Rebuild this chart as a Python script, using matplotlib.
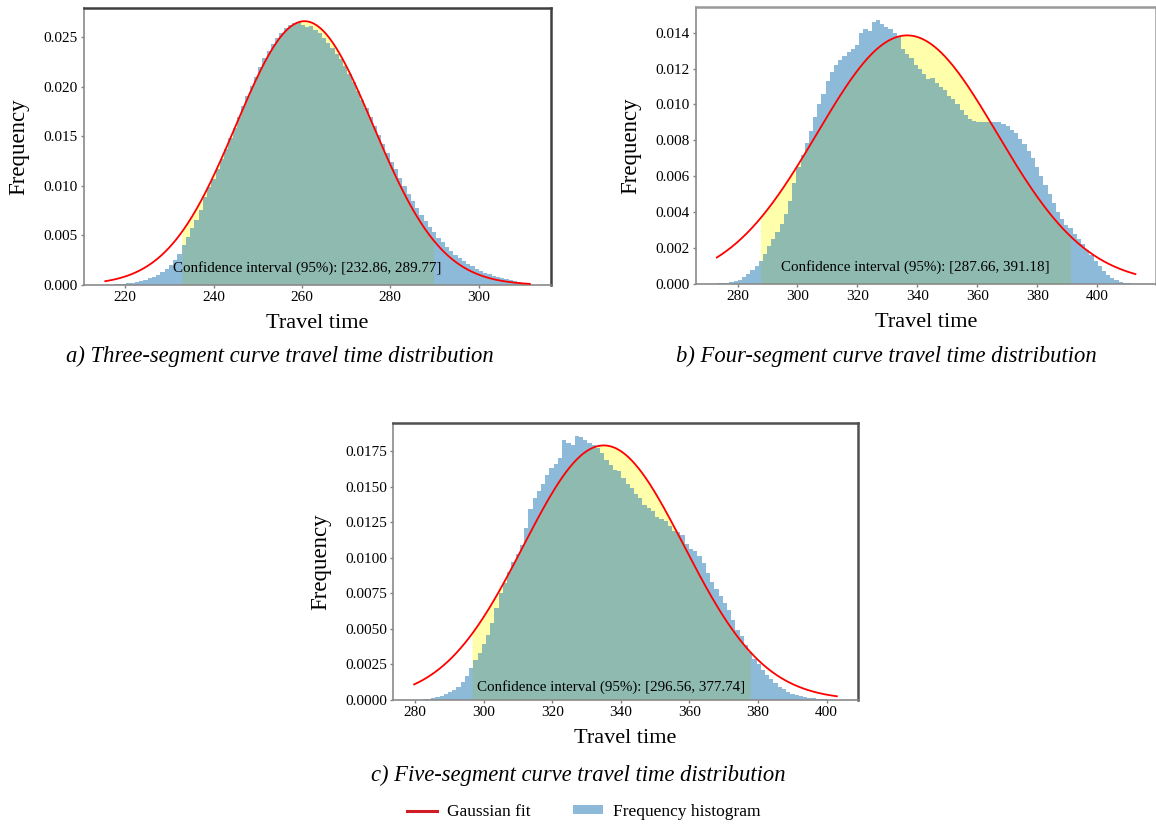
import matplotlib
matplotlib.use('Agg')
import matplotlib.pyplot as plt
from matplotlib.lines import Line2D
from matplotlib.patches import Patch
import numpy as np

plt.rcParams['font.family'] = ['Liberation Serif', 'DejaVu Serif']

# histogram range (min, max travel time) and bar heights
range_a = [215.5, 311.6]
freq_a = [0.00003, 0.00005, 0.00008, 0.00010, 0.00015, 0.00020, 0.00025, 0.00032, 0.00042, 0.00055,
          0.00068, 0.00085, 0.00105, 0.00130, 0.00165, 0.00200, 0.00250, 0.00310, 0.00400, 0.00480,
          0.00570, 0.00660, 0.00760, 0.00890, 0.00985, 0.01073, 0.01174, 0.01268, 0.01376, 0.01485,
          0.01585, 0.01696, 0.01805, 0.01903, 0.02008, 0.02099, 0.02195, 0.02284, 0.02359, 0.02433,
          0.02491, 0.02546, 0.02590, 0.02620, 0.02641, 0.02650, 0.02620, 0.02600, 0.02610, 0.02570,
          0.02540, 0.02490, 0.02440, 0.02390, 0.02330, 0.02274, 0.02205, 0.02127, 0.02049, 0.01960,
          0.01869, 0.01786, 0.01690, 0.01607, 0.01513, 0.01419, 0.01336, 0.01245, 0.01165, 0.01078,
          0.00994, 0.00922, 0.00845, 0.00772, 0.00709, 0.00643, 0.00587, 0.00530, 0.00475, 0.00431,
          0.00384, 0.00346, 0.00307, 0.00271, 0.00242, 0.00212, 0.00188, 0.00164, 0.00143, 0.00125,
          0.00108, 0.00094, 0.00081, 0.00069, 0.00060, 0.00050, 0.00040, 0.00030, 0.00020, 0.00010]

range_b = [273.1, 412.8]
freq_b = [0.00003, 0.00005, 0.00008, 0.00011, 0.00016, 0.00024, 0.00038, 0.00055, 0.00078, 0.00100,
          0.00130, 0.00165, 0.00210, 0.00250, 0.00290, 0.00335, 0.00390, 0.00460, 0.00560, 0.00650,
          0.00720, 0.00785, 0.00850, 0.00930, 0.01000, 0.01060, 0.01130, 0.01180, 0.01220, 0.01250,
          0.01270, 0.01290, 0.01310, 0.01330, 0.01400, 0.01420, 0.01410, 0.01460, 0.01470, 0.01450,
          0.01430, 0.01420, 0.01400, 0.01380, 0.01310, 0.01280, 0.01260, 0.01220, 0.01200, 0.01170,
          0.01140, 0.01150, 0.01120, 0.01100, 0.01080, 0.01050, 0.01030, 0.01000, 0.00970, 0.00940,
          0.00920, 0.00910, 0.00900, 0.00900, 0.00900, 0.00900, 0.00900, 0.00900, 0.00890, 0.00880,
          0.00860, 0.00840, 0.00810, 0.00780, 0.00740, 0.00700, 0.00650, 0.00600, 0.00550, 0.00500,
          0.00450, 0.00400, 0.00360, 0.00330, 0.00310, 0.00280, 0.00250, 0.00220, 0.00190, 0.00160,
          0.00130, 0.00100, 0.00070, 0.00050, 0.00032, 0.00020, 0.00012, 0.00007, 0.00004, 0.00002]

range_c = [279.7, 403.0]
freq_c = [0.00001, 0.00002, 0.00004, 0.00008, 0.00014, 0.00022, 0.00030, 0.00040, 0.00055, 0.00072,
          0.00095, 0.00125, 0.00170, 0.00225, 0.00280, 0.00330, 0.00395, 0.00460, 0.00540, 0.00650,
          0.00750, 0.00820, 0.00900, 0.00970, 0.01030, 0.01090, 0.01210, 0.01340, 0.01420, 0.01470,
          0.01520, 0.01580, 0.01630, 0.01660, 0.01700, 0.01830, 0.01810, 0.01790, 0.01855, 0.01850,
          0.01830, 0.01810, 0.01790, 0.01770, 0.01740, 0.01690, 0.01650, 0.01620, 0.01610, 0.01560,
          0.01520, 0.01490, 0.01450, 0.01420, 0.01370, 0.01350, 0.01330, 0.01290, 0.01270, 0.01260,
          0.01220, 0.01190, 0.01180, 0.01160, 0.01100, 0.01060, 0.01050, 0.01010, 0.00960, 0.00890,
          0.00830, 0.00780, 0.00730, 0.00680, 0.00630, 0.00560, 0.00490, 0.00450, 0.00390, 0.00340,
          0.00290, 0.00250, 0.00210, 0.00175, 0.00145, 0.00120, 0.00095, 0.00075, 0.00058, 0.00045,
          0.00035, 0.00027, 0.00020, 0.00015, 0.00011, 0.00008, 0.00006, 0.00004, 0.00002, 0.00001]

# gaussian fit (amplitude, mean, sigma) and 95% confidence intervals
fit_a = [0.0266, 260.6, 15.5]
fit_b = [0.01385, 336.6, 30.0]
fit_c = [0.0179, 335.0, 23.4]
ci_a = [232.86, 289.77]
ci_b = [287.66, 391.18]
ci_c = [296.56, 377.74]

captions = ['a) Three-segment curve travel time distribution',
            'b) Four-segment curve travel time distribution',
            'c) Five-segment curve travel time distribution']

ranges = [range_a, range_b, range_c]
freqs = [freq_a, freq_b, freq_c]
fits = [fit_a, fit_b, fit_c]
cis = [ci_a, ci_b, ci_c]

fig = plt.figure(figsize=(11.56, 8.25), dpi=100)
axes_pos = [[0.0727, 0.6545, 0.404, 0.3358],
            [0.602, 0.6558, 0.3983, 0.3358],
            [0.340, 0.1515, 0.4022, 0.3358]]
text_y = [0.062, 0.06, 0.046]
cap_xy = [(0.242, 0.5685), (0.767, 0.5685), (0.500, 0.0606)]
top_col = ['#404040', '#9a9a9a', '#505050']

hist_col = '#1f77b4'
for k in range(3):
    ax = fig.add_axes(axes_pos[k])
    lo, hi = ranges[k]
    vals = np.array(freqs[k])
    edges = np.linspace(lo, hi, len(vals) + 1)
    amp, mu, sig = fits[k]
    xs = np.linspace(lo, hi, 500)
    ys = amp * np.exp(-(xs - mu) ** 2 / (2 * sig ** 2))
    c0, c1 = cis[k]
    xf = np.linspace(c0, c1, 400)
    yf = amp * np.exp(-(xf - mu) ** 2 / (2 * sig ** 2))

    ax.fill_between(xf, 0, yf, color='yellow', alpha=0.33, lw=0, zorder=1)
    ax.hist((edges[:-1] + edges[1:]) / 2, bins=edges, weights=vals,
            histtype='stepfilled', color=hist_col, alpha=0.5, lw=0, zorder=2)
    ax.plot(xs, ys, c='red', lw=1.3, zorder=3)
    ax.text((c0 + c1) / 2, text_y[k], 'Confidence interval (95%%): [%.2f, %.2f]' % (c0, c1),
            transform=ax.get_xaxis_transform(), ha='center', va='center', fontsize=10.8, zorder=4)

    ax.set_ylim(bottom=0)
    ax.set_xlabel('Travel time', fontsize=16, labelpad=7)
    ax.set_ylabel('Frequency', fontsize=16.5, labelpad=10)
    ax.tick_params(labelsize=11, color='#808080', length=2.5, width=1, pad=2)
    for s in ['left', 'bottom']:
        ax.spines[s].set_color('#8a8a8a')
        ax.spines[s].set_linewidth(1.2)
    for s in ['top', 'right']:
        ax.spines[s].set_color(top_col[k])
        ax.spines[s].set_linewidth(1.8)

    fig.text(cap_xy[k][0], cap_xy[k][1], captions[k], ha='center', va='center',
             fontsize=16.3, style='italic')

handles = [Line2D([0], [0], color='#d01c24', lw=2.2),
           Patch(facecolor=hist_col, alpha=0.5, edgecolor='none')]
fig.legend(handles, ['Gaussian fit', 'Frequency histogram'], loc='center',
           bbox_to_anchor=(0.505, 0.016), ncol=2, frameon=False, fontsize=12.5,
           handlelength=1.75, handleheight=0.4, handletextpad=0.6, columnspacing=2.4)

plt.savefig('out.png', dpi=100)
plt.close()
